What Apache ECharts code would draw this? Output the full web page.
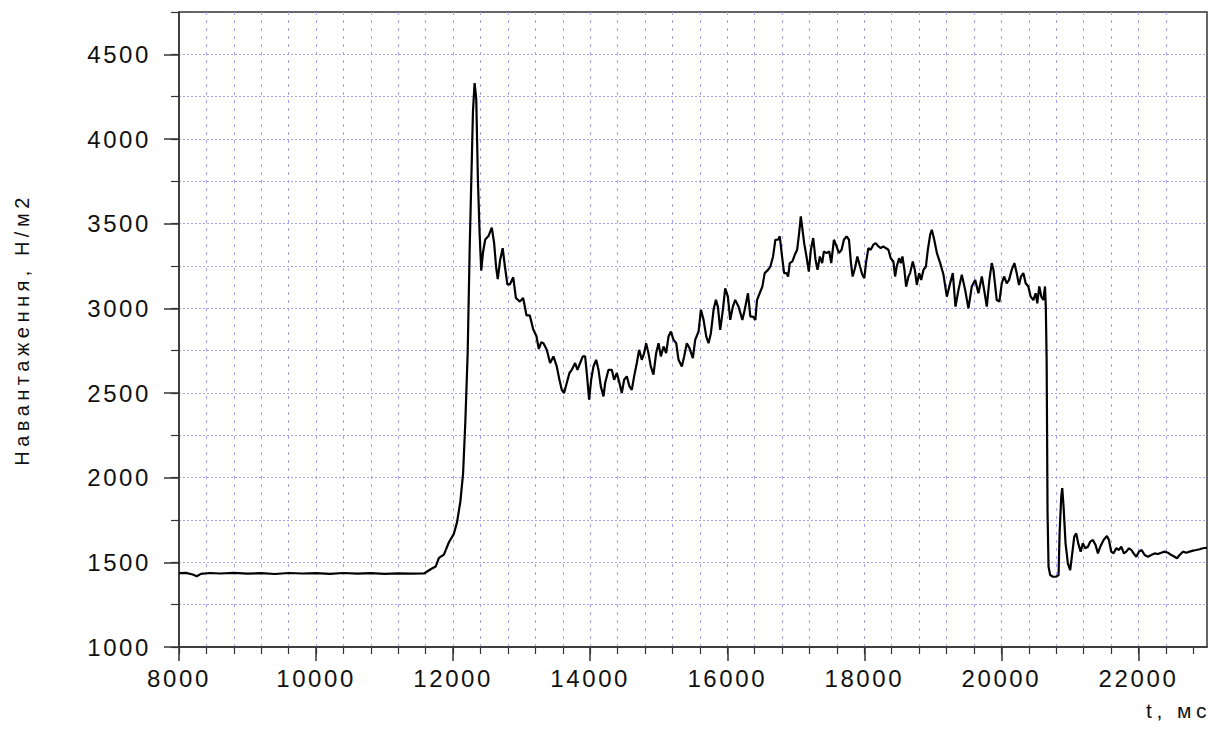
<!DOCTYPE html>
<html>
<head>
<meta charset="utf-8">
<script src="https://cdn.jsdelivr.net/npm/echarts@6/dist/echarts.min.js"></script>
<style>
  html, body { margin: 0; padding: 0; background: #ffffff; }
  #chart { width: 1221px; height: 749px; }
</style>
</head>
<body>
<div id="chart"></div>
<script>
// Time of each sample, ms
const timeMs = [
  8000, 8100, 8200, 8260, 8320, 8450, 8600, 8800, 9000, 9200, 9400, 9600, 9800,
  10000, 10200, 10400, 10600, 10800, 11000, 11200, 11400, 11576,
  11672, 11745, 11793, 11865, 11937, 12010, 12058, 12106, 12145, 12178, 12212,
  12241, 12265, 12289, 12313, 12337, 12362, 12386, 12410, 12434, 12468, 12516,
  12564, 12598, 12627, 12651, 12685, 12723, 12757, 12791, 12829, 12877, 12916,
  12974, 13022, 13070, 13118, 13167, 13215, 13250, 13287,
  13318, 13366, 13415, 13464, 13512, 13551, 13585, 13619, 13658, 13697, 13731,
  13780, 13814, 13853, 13892, 13926, 13950, 13984, 14014, 14048, 14087, 14121,
  14155, 14194, 14218, 14267, 14315, 14349, 14389, 14427, 14461, 14495, 14534,
  14573, 14607, 14641, 14680, 14714, 14753, 14787, 14816, 14850, 14884, 14923,
  14962, 14997, 15031, 15070, 15108, 15143, 15177, 15216, 15255, 15289, 15337,
  15371, 15410, 15449, 15498, 15532, 15581, 15615, 15654, 15693, 15727, 15761,
  15800, 15834, 15863, 15897, 15936, 15970, 16009, 16043, 16082, 16116, 16165,
  16220, 16254, 16302, 16337, 16376, 16410, 16434, 16473, 16512, 16546, 16595,
  16629, 16668, 16702, 16741, 16766, 16805, 16829, 16863, 16888, 16912, 16951,
  16985, 17020, 17049, 17073, 17098, 17122, 17156, 17190, 17220, 17254, 17288,
  17317, 17351, 17385, 17410, 17449, 17488, 17517, 17556, 17595, 17629, 17668,
  17702, 17741, 17776, 17805, 17829, 17863, 17898, 17937, 17971, 18000, 18024,
  18059, 18093, 18132, 18166, 18205, 18239, 18278, 18312, 18351, 18385, 18424,
  18449, 18473, 18507, 18532, 18556, 18585, 18610, 18644, 18668, 18707, 18737,
  18766, 18800, 18829, 18863, 18898, 18927, 18961, 18985, 19020, 19059,
  19107, 19155, 19204, 19252, 19291, 19330, 19374, 19422, 19471, 19519, 19568,
  19617, 19665, 19714, 19748, 19787, 19825, 19859, 19884, 19932, 19971, 20005,
  20039, 20078, 20112, 20150, 20189, 20223, 20257, 20286, 20320, 20354, 20393,
  20427, 20466, 20500, 20524, 20553, 20582, 20612, 20636,
  20648, 20660, 20666, 20673, 20688, 20712, 20751, 20800, 20834, 20849, 20873,
  20888, 20907, 20936, 20970, 21004, 21034, 21063, 21092, 21121, 21156, 21189,
  21223, 21262, 21296, 21335, 21374, 21408, 21442, 21491, 21540, 21569, 21603,
  21637, 21676, 21715, 21749, 21788, 21822, 21861, 21895, 21929, 21968, 22007,
  22046, 22090, 22138, 22187, 22235, 22284, 22333, 22381, 22430, 22479, 22527,
  22562, 22600, 22649, 22698, 22746, 22795, 22844, 22892, 22941, 23000
];

// Measured load, N/m2
const loadNm2 = [
  1436, 1438, 1428, 1418, 1432, 1437, 1434, 1438, 1433, 1436, 1431, 1437, 1434,
  1436, 1432, 1437, 1433, 1436, 1432, 1435, 1433, 1434,
  1459, 1475, 1526, 1546, 1617, 1668, 1739, 1861, 2024, 2329, 2735,
  3345, 3752, 4158, 4330, 4240, 3752, 3447, 3223, 3325, 3406, 3427,
  3477, 3386, 3244, 3172, 3284, 3355, 3244, 3142, 3142, 3183, 3061,
  3040, 3061, 2959, 2959, 2878, 2837, 2760, 2800,
  2794, 2755, 2677, 2716, 2657, 2578, 2519, 2500, 2559, 2618, 2637,
  2677, 2637, 2677, 2716, 2716, 2618, 2460, 2578, 2657, 2696, 2637,
  2539, 2480, 2559, 2637, 2637, 2578, 2618, 2559, 2500, 2578, 2598,
  2539, 2519, 2598, 2677, 2755, 2696, 2735, 2794, 2735, 2657, 2608,
  2735, 2794, 2716, 2775, 2735, 2834, 2863, 2814, 2794, 2696, 2657,
  2716, 2794, 2765, 2706, 2814, 2863, 2991, 2932, 2834, 2794, 2853,
  2991, 3050, 3010, 2873, 2991, 3118, 3069, 2932, 3010, 3050, 3010,
  2931, 2990, 3089, 2951, 2951, 2931, 3049, 3089, 3128, 3208, 3227,
  3247, 3306, 3405, 3405, 3425, 3287, 3208, 3208, 3188, 3267, 3277,
  3316, 3346, 3445, 3543, 3464, 3385, 3306, 3217, 3346, 3415, 3287,
  3227, 3306, 3267, 3336, 3326, 3336, 3267, 3405, 3366, 3326, 3346,
  3405, 3425, 3405, 3267, 3188, 3237, 3306, 3247, 3198, 3178, 3267,
  3356, 3346, 3376, 3385, 3366, 3356, 3366, 3356, 3346, 3296, 3277,
  3188, 3247, 3296, 3267, 3306, 3227, 3128, 3188, 3208, 3277, 3227,
  3138, 3208, 3168, 3227, 3247, 3346, 3435, 3464, 3405, 3326,
  3267, 3198, 3069, 3148, 3208, 3010, 3109, 3198, 3109, 3000, 3129,
  3168, 3089, 3188, 3109, 3010, 3168, 3267, 3227, 3049, 3040, 3148,
  3188, 3148, 3168, 3227, 3267, 3208, 3138, 3188, 3208, 3148, 3129,
  3069, 3049, 3089, 3030, 3129, 3069, 3049, 3129,
  3010, 2700, 2300, 1800, 1474, 1425, 1415, 1415, 1425, 1671, 1888,
  1938, 1829, 1612, 1494, 1454, 1553, 1652, 1671, 1612, 1563, 1612,
  1583, 1592, 1622, 1632, 1602, 1553, 1592, 1632, 1656, 1632, 1563,
  1553, 1583, 1573, 1592, 1553, 1563, 1583, 1573, 1553, 1533, 1563,
  1573, 1543, 1533, 1543, 1553, 1549, 1557, 1563, 1557, 1543, 1533,
  1524, 1543, 1563, 1557, 1563, 1569, 1573, 1577, 1583, 1586
];

// Labelled tick values on both axes
const xTickLabels = [8000, 10000, 12000, 14000, 16000, 18000, 20000, 22000];
const yTickLabels = [1000, 1500, 2000, 2500, 3000, 3500, 4000, 4500];

const yTitle = 'Навантаження, Н/м2';
const xTitle = 't, мс';

const X_MIN = 8000, X_MAX = 23000, X_MINOR = 400;
const Y_MIN = 1000, Y_MAX = 4750, Y_MINOR = 250;

const points = timeMs.map((t, i) => [t, loadNm2[i]]);

// minor tick positions for the time axis (every 400 ms inside the range)
const xMinorTicks = [];
for (let v = X_MIN; v < X_MAX; v += X_MINOR) xMinorTicks.push(v);

const axisColor = '#333333';
const gridColor = '#a4a4f2';
const labelFont = 'Liberation Sans, Arial, sans-serif';
const plainNumber = v => String(v);

const chartEl = document.getElementById('chart');
const chart = echarts.init(chartEl, null, { renderer: 'svg' });

const GRID = { left: 179, right: 14, top: 12, bottom: 102 };

chart.setOption({
  animation: false,
  backgroundColor: '#ffffff',
  grid: {
    left: GRID.left, right: GRID.right, top: GRID.top, bottom: GRID.bottom,
    show: true, borderColor: axisColor, borderWidth: 1.5,
    backgroundColor: 'transparent'
  },
  xAxis: [
    {
      type: 'value', min: X_MIN, max: X_MAX, interval: 2000,
      axisLine: { show: true, onZero: false, lineStyle: { color: axisColor, width: 1.5 } },
      axisTick: { show: true, length: 14, customValues: xTickLabels, lineStyle: { color: axisColor, width: 1.5 } },
      axisLabel: {
        customValues: xTickLabels, margin: 19, formatter: plainNumber,
        fontFamily: labelFont, fontSize: 24, color: '#111111'
      },
      splitLine: { show: false }
    },
    {
      type: 'value', min: X_MIN, max: X_MAX, interval: X_MINOR, position: 'bottom',
      axisLine: { show: false },
      axisTick: { show: true, length: 7, customValues: xMinorTicks, lineStyle: { color: axisColor, width: 1.2 } },
      axisLabel: { show: false },
      splitLine: {
        show: true, showMinLine: false, showMaxLine: false,
        lineStyle: { color: gridColor, width: 1, type: [3, 5] }
      }
    }
  ],
  yAxis: [
    {
      type: 'value', min: Y_MIN, max: Y_MAX, interval: 500,
      name: yTitle, nameLocation: 'middle', nameGap: 147,
      nameTextStyle: { fontFamily: labelFont, fontSize: 20, color: '#111111' },
      axisLine: { show: true, onZero: false, lineStyle: { color: axisColor, width: 1.5 } },
      axisTick: { show: true, length: 15, customValues: yTickLabels, lineStyle: { color: axisColor, width: 1.5 } },
      axisLabel: {
        customValues: yTickLabels, margin: 28, formatter: plainNumber,
        fontFamily: labelFont, fontSize: 24, color: '#111111'
      },
      splitLine: { show: false }
    },
    {
      type: 'value', min: Y_MIN, max: Y_MAX, interval: Y_MINOR, position: 'left',
      axisLine: { show: false },
      axisTick: { show: true, length: 8, lineStyle: { color: axisColor, width: 1.2 } },
      axisLabel: { show: false },
      splitLine: {
        show: true, showMinLine: false, showMaxLine: false,
        lineStyle: { color: gridColor, width: 1, type: [2, 2] }
      }
    }
  ],
  graphic: [
    {
      type: 'text',
      x: chartEl.clientWidth - GRID.right + 4, y: 700,
      style: { text: xTitle, font: '21px ' + labelFont, fill: '#111111', textAlign: 'right' }
    }
  ],
  series: [
    {
      type: 'line',
      xAxisIndex: 0, yAxisIndex: 0,
      data: points,
      showSymbol: false,
      smooth: false,
      lineStyle: { color: '#000000', width: 2.2 },
      z: 5
    }
  ]
});

// widen character spacing of the axis texts
function spaceTexts() {
  document.querySelectorAll('#chart svg text').forEach(function (el) {
    const s = el.textContent || '';
    el.style.letterSpacing = (s === yTitle || s === xTitle) ? '4.5px' : '2.6px';
  });
}
chart.on('finished', spaceTexts);
spaceTexts();
</script>
</body>
</html>
